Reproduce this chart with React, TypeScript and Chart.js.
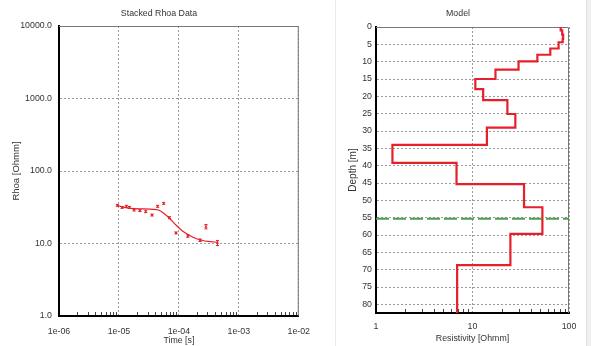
import React, { useEffect, useRef } from 'react';
import { Chart, registerables } from 'chart.js';

Chart.register(...registerables);

// ---------- Left chart data (Stacked Rhoa Data) ----------
const times = [9.4e-6, 1.13e-5, 1.33e-5, 1.5e-5, 1.79e-5, 2.24e-5, 2.8e-5, 3.57e-5, 4.42e-5, 5.58e-5, 6.98e-5, 8.95e-5, 1.41e-4, 2.26e-4, 2.83e-4, 4.4e-4];
const rhoa = [33.6, 31.5, 32.6, 31.5, 29.0, 28.4, 27.5, 24.7, 32.6, 35.8, 22.7, 14.0, 12.7, 11.1, 17.1, 10.2];
const rhoaErr = [0.03, 0.03, 0.03, 0.03, 0.03, 0.03, 0.03, 0.03, 0.03, 0.03, 0.03, 0.03, 0.04, 0.04, 0.07, 0.08];
const modelTimes = [9.4e-6, 1.09e-5, 1.58e-5, 3.77e-5, 4.53e-5, 5.45e-5, 6.98e-5, 8.95e-5, 1.15e-4, 1.47e-4, 1.88e-4, 2.41e-4, 3.08e-4, 4.4e-4];
const modelRhoa = [33.6, 32.2, 30.5, 29.6, 29.0, 26.6, 22.3, 18.0, 14.9, 13.1, 11.8, 11.1, 10.7, 10.4];
const timeTicks = [1e-6, 1e-5, 1e-4, 1e-3, 1e-2];
const timeTickLabels = ['1e-06', '1e-05', '1e-04', '1e-03', '1e-02'];
const rhoaTicks = [1, 10, 100, 1000, 10000];
const rhoaTickLabels = ['1.0', '10.0', '100.0', '1000.0', '10000.0'];

// ---------- Right chart data (Model) ----------
const layerTops = [0, 1, 2.2, 3.4, 4.4, 6.2, 8.0, 9.9, 12.3, 15.0, 17.9, 21.1, 25.1, 29.0, 34.0, 39.2, 45.3, 52.0, 59.7, 68.7];
const layerRes = [82, 85, 87, 86, 78, 64, 47, 30, 17.3, 10.7, 12.9, 23, 27.8, 14.1, 1.48, 6.83, 34.2, 53, 24.7, 6.93];
const depthMax = 82.5;
const doiDepth = 55.3;
const depthTicks = [0, 5, 10, 15, 20, 25, 30, 35, 40, 45, 50, 55, 60, 65, 70, 75, 80];
const resTicks = [1, 10, 100];
const resTickLabels = ['1', '10', '100'];

const RED = '#e5202a';
const GRID = '#9a9a9a';
const TXT = '#333';
const FONT = "'Liberation Sans', Arial, sans-serif";
const HSIZE = 8.8;

const framePlugin = {
  id: 'frame',
  beforeDatasetsDraw(chart: any) {
    const { ctx, chartArea: a } = chart;
    ctx.save();
    ctx.strokeStyle = '#777';
    ctx.lineWidth = 1;
    ctx.beginPath();
    ctx.moveTo(a.left, a.top + 0.5);
    ctx.lineTo(a.right - 0.5, a.top + 0.5);
    ctx.lineTo(a.right - 0.5, a.bottom);
    ctx.stroke();
    // minor ticks on the bottom (log) axis
    const xs = chart.scales.x;
    const lo = Math.floor(Math.log10(xs.min));
    const hi = Math.ceil(Math.log10(xs.max));
    ctx.strokeStyle = '#444';
    ctx.beginPath();
    for (let e = lo; e < hi; e++) {
      for (let k = 2; k <= 9; k++) {
        const v = k * Math.pow(10, e);
        if (v <= xs.min || v >= xs.max) continue;
        const px = Math.round(xs.getPixelForValue(v)) + 0.5;
        ctx.moveTo(px, a.bottom - 1);
        ctx.lineTo(px, a.bottom - 4);
      }
    }
    ctx.stroke();
    ctx.restore();
  },
};

const errorBarPlugin = {
  id: 'errbars',
  afterDatasetsDraw(chart: any) {
    const { ctx } = chart;
    const xs = chart.scales.x;
    const ys = chart.scales.y;
    if (!chart.options.plugins.errbars) return;
    ctx.save();
    ctx.strokeStyle = RED;
    ctx.lineWidth = 1;
    ctx.beginPath();
    times.forEach((t, i) => {
      const px = xs.getPixelForValue(t);
      const yLo = ys.getPixelForValue(rhoa[i] * (1 - rhoaErr[i]));
      const yHi = ys.getPixelForValue(rhoa[i] * (1 + rhoaErr[i]));
      ctx.moveTo(px, yLo);
      ctx.lineTo(px, yHi);
      ctx.moveTo(px - 1.5, yLo);
      ctx.lineTo(px + 1.5, yLo);
      ctx.moveTo(px - 1.5, yHi);
      ctx.lineTo(px + 1.5, yHi);
    });
    ctx.stroke();
    ctx.restore();
  },
};

function RhoaChart() {
  const ref = useRef<HTMLCanvasElement>(null);
  useEffect(() => {
    const chart = new Chart(ref.current!, {
      type: 'scatter',
      data: {
        datasets: [
          {
            label: 'Model response',
            data: modelTimes.map((t, i) => ({ x: t, y: modelRhoa[i] })),
            showLine: true,
            borderColor: RED,
            borderWidth: 1.2,
            pointRadius: 0,
            tension: 0.3,
          },
          {
            label: 'Data',
            data: times.map((t, i) => ({ x: t, y: rhoa[i] })),
            showLine: false,
            borderColor: RED,
            backgroundColor: RED,
            pointStyle: 'crossRot',
            pointRadius: 1.6,
            borderWidth: 1,
          },
        ],
      },
      options: {
        responsive: false,
        animation: false,
        layout: { padding: { left: 0, top: 26, right: 13, bottom: 0 } },
        plugins: { legend: { display: false }, tooltip: { enabled: false }, errbars: true } as any,
        scales: {
          x: {
            type: 'logarithmic',
            min: 1e-6,
            max: 1e-2,
            afterBuildTicks: (s: any) => { s.ticks = timeTicks.map((v) => ({ value: v })); },
            afterFit: (s: any) => { s.height = 30; },
            ticks: {
              autoSkip: false,
              maxRotation: 0,
              padding: 10,
              color: TXT,
              font: { family: FONT, size: HSIZE },
              callback: (_v: any, i: number) => timeTickLabels[i],
            },
            grid: { color: GRID, lineWidth: 1, drawTicks: false },
            border: { color: '#000', width: 2, dash: [2, 2] },
            title: { display: true, text: 'Time [s]', color: TXT, font: { family: FONT, size: HSIZE }, padding: { top: 0, bottom: 0 } },
          },
          y: {
            type: 'logarithmic',
            min: 1,
            max: 10000,
            afterBuildTicks: (s: any) => { s.ticks = rhoaTicks.map((v) => ({ value: v })); },
            afterFit: (s: any) => { s.width = 59; },
            ticks: {
              autoSkip: false,
              padding: 7,
              color: TXT,
              font: { family: FONT, size: HSIZE },
              callback: (_v: any, i: number) => rhoaTickLabels[i],
            },
            grid: { color: GRID, lineWidth: 1, drawTicks: false },
            border: { color: '#000', width: 2, dash: [2, 2] },
            title: { display: true, text: 'Rhoa [Ohmm]', color: TXT, font: { family: FONT, size: 9.5 }, padding: { top: 11, bottom: 0 } },
          },
        },
      },
      plugins: [framePlugin, errorBarPlugin],
    });
    return () => chart.destroy();
  }, []);
  return <canvas ref={ref} width={320} height={346} style={{ position: 'absolute', left: 0, top: 0, width: 320, height: 346 }} />;
}

function ModelChart() {
  const ref = useRef<HTMLCanvasElement>(null);
  useEffect(() => {
    const profile: { x: number; y: number }[] = [];
    layerTops.forEach((top, i) => {
      const bottom = i + 1 < layerTops.length ? layerTops[i + 1] : depthMax;
      profile.push({ x: layerRes[i], y: top });
      profile.push({ x: layerRes[i], y: bottom });
    });
    const chart = new Chart(ref.current!, {
      type: 'scatter',
      data: {
        datasets: [
          {
            label: 'DOI',
            data: [{ x: 1, y: doiDepth }, { x: 100, y: doiDepth }],
            showLine: true,
            borderColor: '#4f9d4f',
            borderWidth: 2,
            borderDash: [13, 4],
            pointRadius: 0,
          },
          {
            label: 'Model',
            data: profile,
            showLine: true,
            borderColor: RED,
            borderWidth: 2.2,
            pointRadius: 0,
          },
        ],
      },
      options: {
        responsive: false,
        animation: false,
        layout: { padding: { left: 0, top: 27, right: 22, bottom: 0 } },
        plugins: { legend: { display: false }, tooltip: { enabled: false } },
        scales: {
          x: {
            type: 'logarithmic',
            min: 1,
            max: 100,
            afterBuildTicks: (s: any) => { s.ticks = resTicks.map((v) => ({ value: v })); },
            afterFit: (s: any) => { s.height = 33; },
            ticks: {
              autoSkip: false,
              maxRotation: 0,
              padding: 8,
              color: TXT,
              font: { family: FONT, size: HSIZE },
              callback: (_v: any, i: number) => resTickLabels[i],
            },
            grid: { color: GRID, lineWidth: 1, drawTicks: false },
            border: { color: '#000', width: 2, dash: [2, 2] },
            title: { display: true, text: 'Resistivity [Ohmm]', color: TXT, font: { family: FONT, size: HSIZE }, padding: { top: 0, bottom: 2 } },
          },
          y: {
            type: 'linear',
            reverse: true,
            min: 0,
            max: depthMax,
            afterBuildTicks: (s: any) => { s.ticks = depthTicks.map((v) => ({ value: v })); },
            afterFit: (s: any) => { s.width = 56; },
            ticks: {
              autoSkip: false,
              padding: 4,
              color: TXT,
              font: { family: FONT, size: HSIZE },
              callback: (v: any) => String(v),
            },
            grid: { color: GRID, lineWidth: 1, drawTicks: false },
            border: { color: '#000', width: 2, dash: [2, 2] },
            title: { display: true, text: 'Depth [m]', color: TXT, font: { family: FONT, size: 10 }, padding: { top: 27, bottom: 0 } },
          },
        },
      },
      plugins: [framePlugin],
    });
    return () => chart.destroy();
  }, []);
  return <canvas ref={ref} width={271} height={346} style={{ position: 'absolute', left: 320, top: 0, width: 271, height: 346 }} />;
}

export default function App() {
  const titleStyle: React.CSSProperties = {
    position: 'absolute',
    top: 8,
    fontFamily: FONT,
    fontSize: HSIZE,
    color: TXT,
    whiteSpace: 'nowrap',
    transform: 'translateX(-50%)',
    lineHeight: '11px',
  };
  return (
    <div style={{ position: 'fixed', left: 0, top: 0, width: 591, height: 346, background: '#fff', overflow: 'hidden' }}>
      <div style={{ position: 'absolute', left: 335, top: 0, width: 1, height: 346, background: '#ebebeb' }} />
      <div style={{ position: 'absolute', left: 586, top: 0, width: 5, height: 346, background: '#efefef', borderLeft: '1px solid #e2e2e2' }} />
      <RhoaChart />
      <ModelChart />
      <div style={{ ...titleStyle, left: 159 }}>Stacked Rhoa Data</div>
      <div style={{ ...titleStyle, left: 458 }}>Model</div>
    </div>
  );
}
